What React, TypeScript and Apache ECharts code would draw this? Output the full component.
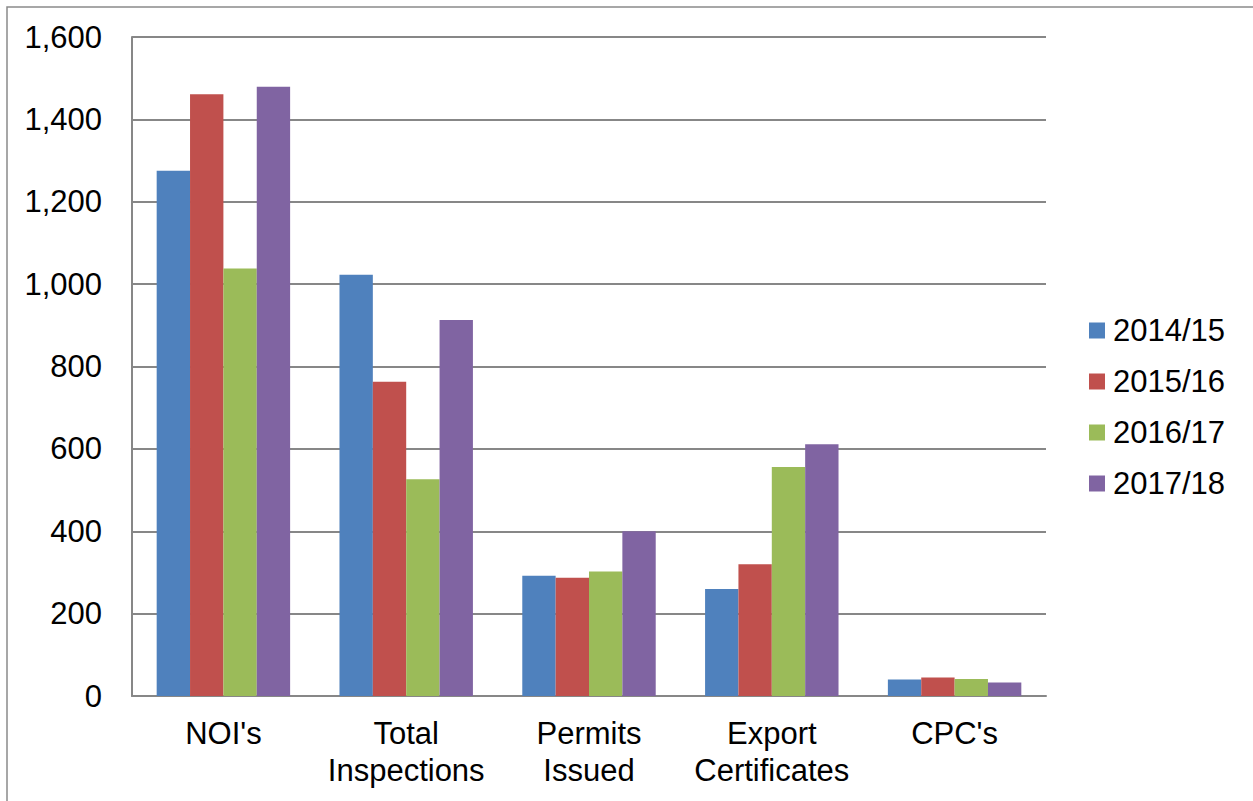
import React, { useEffect, useRef } from "react";
import * as echarts from "echarts";

const categories = ["NOI's", "Total\nInspections", "Permits\nIssued", "Export\nCertificates", "CPC's"];
const seriesNames = ["2014/15", "2015/16", "2016/17", "2017/18"];
const values2014 = [1275, 1023, 292, 260, 40];
const values2015 = [1461, 763, 287, 320, 45];
const values2016 = [1038, 526, 302, 556, 41];
const values2017 = [1479, 913, 400, 611, 33];
const colors = ["#4F81BD", "#C0504D", "#9BBB59", "#8064A2"];

const FONT = "Liberation Sans, Arial, sans-serif";

export default function App() {
  const ref = useRef<HTMLDivElement>(null);
  useEffect(() => {
    if (!ref.current) return;
    const chart = echarts.init(ref.current, undefined, { renderer: "svg" });
    const data = [values2014, values2015, values2016, values2017];
    chart.setOption({
      animation: false,
      backgroundColor: "#ffffff",
      textStyle: { fontFamily: FONT },
      graphic: [
        {
          type: "rect",
          shape: { x: 7, y: 7, width: 1400, height: 1000 },
          style: { fill: "none", stroke: "#8a8a8a", lineWidth: 1.5 },
          z: -1,
          silent: true,
        },
      ],
      grid: { left: 132, top: 37, right: 207, bottom: 105, containLabel: false },
      legend: {
        orient: "vertical",
        left: 1089,
        top: 315,
        padding: 0,
        itemWidth: 16,
        itemHeight: 16,
        itemGap: 20,
        icon: "rect",
        data: seriesNames,
        textStyle: {
          fontFamily: FONT,
          fontSize: 31,
          color: "#000",
          lineHeight: 30,
          padding: [0, 0, 0, 3],
        },
      },
      xAxis: {
        type: "category",
        data: categories,
        axisTick: { show: false },
        axisLine: { lineStyle: { color: "#878787", width: 2 } },
        axisLabel: {
          fontFamily: FONT,
          fontSize: 31,
          color: "#000",
          lineHeight: 37,
          margin: 19,
          interval: 0,
        },
      },
      yAxis: {
        type: "value",
        min: 0,
        max: 1600,
        interval: 200,
        axisLine: { show: true, lineStyle: { color: "#878787", width: 2 } },
        axisTick: { show: false },
        splitLine: { lineStyle: { color: "#878787", width: 2 } },
        axisLabel: {
          fontFamily: FONT,
          fontSize: 31,
          color: "#000",
          margin: 30,
          formatter: (v: number) => v.toLocaleString("en-US"),
        },
      },
      series: seriesNames.map((name, i) => ({
        name,
        type: "bar",
        data: data[i],
        barGap: "0%",
        barCategoryGap: "27%",
        itemStyle: { color: colors[i] },
      })),
    });
    return () => chart.dispose();
  }, []);
  return (
    <div
      ref={ref}
      style={{ position: "absolute", left: 0, top: 0, width: 1253, height: 801 }}
    />
  );
}
